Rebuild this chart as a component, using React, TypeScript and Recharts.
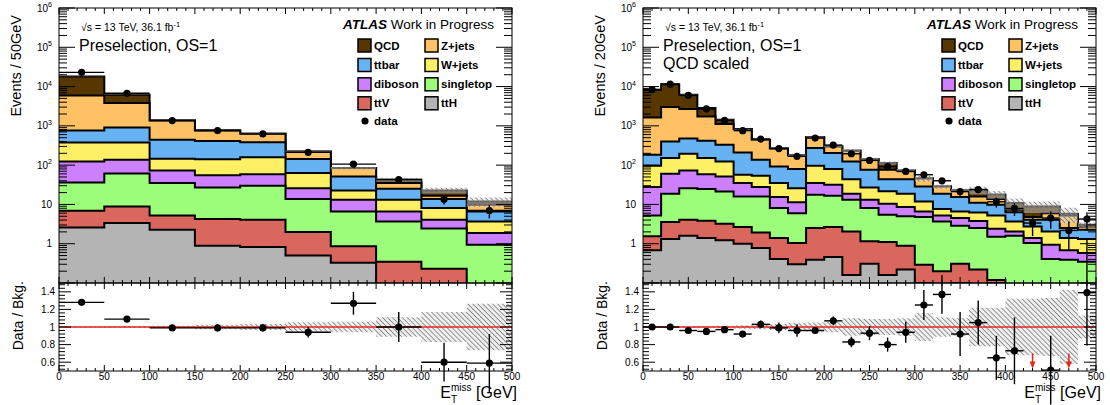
import React from 'react';
import { ComposedChart, Area, Scatter, XAxis, YAxis, ErrorBar, ReferenceLine } from 'recharts';

const FONT = '"Liberation Sans", Arial, Helvetica, sans-serif';

// Stack order (bottom -> top)
const NAMES = ['ttH', 'ttV', 'singletop', 'diboson', 'W+jets', 'ttbar', 'Z+jets', 'QCD'];
const COLORS = ['#b4b4b4', '#d9675d', '#9cfd7a', '#cd80fd', '#fef065', '#66b2f3', '#fec264', '#573600'];

// ---------------- Left panel: 50 GeV bins ----------------
const edgesL = [0, 50, 100, 150, 200, 250, 300, 350, 400, 450, 500];
const tthL = [2.6, 3.36, 2.27, 0.89, 0.82, 0.5, 0.33, 0.08, 0.05, 0.02];
const ttvL = [4.3, 5.54, 2.98, 3.36, 3.26, 1.49, 0.53, 0.27, 0.18, 0.04];
const singletopL = [29.1, 52.6, 29.75, 22.75, 25.9, 11.7, 5.74, 3.35, 2.22, 0.88];
const dibosonL = [88, 75.5, 38, 28, 29, 12.3, 6.6, 2.9, 1.65, 0.93];
const wjetsL = [254, 241, 72, 87, 101, 37, 9.5, 6.6, 4.0, 1.83];
const ttbarL = [385, 532, 298, 268, 220, 80, 28.9, 11.8, 5.6, 2.9];
const zjetsL = [5177, 2890, 927, 355, 250, 81, 32.4, 10, 3.0, 3.2];
const qcdL = [12160, 2400, 0, 0, 0, 0, 0, 7.5, 6.0, 2.1];
const dataL = [23000, 6750, 1360, 760, 625, 212, 106, 43, 13.6, 7.0];
const dataErrL = [150, 82, 37, 28, 25, 15, 10, 6.6, 3.7, 2.6];
const ratioL: (number | null)[] = [1.28, 1.09, 0.99, 0.99, 0.99, 0.94, 1.27, 1.0, 0.6, 0.59];
const ratioErrL = [0.01, 0.015, 0.03, 0.04, 0.04, 0.06, 0.13, 0.17, 0.22, 0.33];
const bandL = [0.008, 0.01, 0.015, 0.025, 0.035, 0.055, 0.06, 0.11, 0.17, 0.265];

// ---------------- Right panel: 20 GeV bins ----------------
const edgesR = [0, 20, 40, 60, 80, 100, 120, 140, 160, 180, 200, 220, 240, 260, 280, 300, 320, 340, 360, 380, 400, 420, 440, 460, 480, 500];
const tthR = [0.68, 1.31, 1.6, 1.39, 1.22, 1.0, 0.78, 0.41, 0.3, 0.39, 0.46, 0.16, 0.31, 0.16, 0.22, 0.1, 0.05, 0.1, 0.05, 0.1, 0.03, 0.03, 0.03, 0.03, 0.03];
const ttvR = [0.86, 2.24, 2.5, 2.46, 2.01, 1.65, 1.16, 0.98, 0.74, 2.11, 2.19, 1.9, 0.84, 0.94, 0.67, 0.19, 0.15, 0.21, 0.17, 0.02, 0.05, 0.05, 0.05, 0.05, 0.05];
const singletopR = [3.66, 15.15, 21.9, 20.75, 18.17, 13.25, 13.96, 6.71, 4.96, 15.2, 14.05, 11.14, 6.95, 4.4, 4.11, 4.51, 3.5, 2.56, 2.28, 1.38, 1.52, 0.96, 0.33, 0.31, 0.27];
const dibosonR = [22.5, 41.8, 47, 34.4, 30.2, 19.1, 11.8, 7.3, 5.3, 17.3, 15, 5.5, 5.1, 4.9, 3.6, 1.8, 1.5, 1.63, 1.3, 0.9, 0.46, 0.35, 0.53, 0.29, 0.23];
const wjetsR = [68.9, 90.5, 122, 92, 72.4, 22, 26.3, 19.6, 14.7, 61.6, 47.8, 25.3, 13.8, 11.1, 10.1, 5.3, 2.4, 2.1, 2.4, 2.8, 1.64, 1.37, 1.12, 0.71, 0.74];
const ttbarR = [87.4, 249, 285, 267, 206, 153, 83, 58, 53.5, 175.4, 123.5, 80, 49, 22.5, 25.3, 16.8, 11.1, 8.8, 4.8, 4.6, 2.6, 1.34, 2.04, 1.11, 0.95];
const zjetsR = [1456, 2600, 2200, 1322, 780, 620, 306, 174, 95.5, 238, 97, 106, 66, 32, 29, 16.9, 10, 7.4, 5, 3.9, 1.0, 0.7, 1.9, 2.75, 0.48];
const qcdR = [6660, 8500, 3520, 1090, 320, 0, 0, 0, 0, 0, 0, 5, 0, 37, 0, 0, 0, 0, 7, 4.3, 3.5, 4.1, 2.9, 0.55, 0.31];
const dataR = [8380, 11500, 5950, 2690, 1390, 755, 460, 264, 168, 490, 324, 195, 132, 92, 69, 57, 40, 21.2, 24, 11.7, 7.9, 3.36, 4.5, 2.18, 4.25];
const dataErrR = [92, 107, 77, 52, 37, 27, 21, 16, 13, 22, 18, 14, 11.5, 9.6, 8.3, 7.5, 6.3, 4.6, 4.9, 3.4, 2.8, 1.8, 2.1, 1.5, 2.1];
const ratioR: (number | null)[] = [1.0, 1.0, 0.96, 0.95, 0.97, 0.92, 1.03, 0.99, 0.96, 0.96, 1.07, 0.83, 0.93, 0.8, 0.94, 1.25, 1.37, 0.92, 1.05, 0.65, 0.73, null, 0.51, null, 1.39];
const ratioErrR = [0.01, 0.01, 0.013, 0.02, 0.026, 0.035, 0.045, 0.06, 0.07, 0.04, 0.05, 0.06, 0.08, 0.08, 0.12, 0.17, 0.22, 0.25, 0.25, 0.25, 0.38, 0, 0.39, 0, 0.6];
const bandR = [0.005, 0.008, 0.01, 0.012, 0.015, 0.02, 0.025, 0.035, 0.045, 0.05, 0.06, 0.1, 0.09, 0.09, 0.1, 0.16, 0.11, 0.1, 0.22, 0.22, 0.32, 0.32, 0.33, 0.42, 0.13];

// Axis ticks
const LOG_MAJOR = [0.1, 1, 10, 100, 1000, 10000, 100000, 1000000];
const RATIO_MAJOR = [0.6, 0.8, 1, 1.2, 1.4];
const ARROW_TOP = 0.7;

const xTicks: number[] = [];
for (let v = 0; v <= 500; v += 10) xTicks.push(v);
const logTicks: number[] = [];
LOG_MAJOR.forEach((d) => {
  for (let m = 1; m <= 9; m++) {
    const v = m * d;
    if (v <= 1000000) logTicks.push(v);
  }
});
const ratioTicks: number[] = [];
for (let k = 0; k <= 24; k++) ratioTicks.push(Math.round((0.52 + 0.04 * k) * 100) / 100);

const W = 526;
const PL = 59;
const PR = 512;
const MAIN_TOP = 8;
const MAIN_BOT = 283;
const RAT_BOT = 371;
const MAIN_H = 290;
const RAT_H = 405;

type Side = 'left' | 'right' | 'top' | 'bottom';
function tickRenderer(
  side: Side,
  isMajor: (v: number) => boolean,
  majLen: number,
  minLen: number,
  label?: (v: number, x: number, y: number) => React.ReactNode
) {
  return (props: any) => {
    const { x, y, payload } = props;
    const v = Number(payload.value);
    const maj = isMajor(v);
    const L = maj ? majLen : minLen;
    const x2 = side === 'left' ? x + L : side === 'right' ? x - L : x;
    const y2 = side === 'top' ? y + L : side === 'bottom' ? y - L : y;
    return (
      <g>
        <line x1={x} y1={y} x2={x2} y2={y2} stroke="#000" strokeWidth={1} />
        {maj && label ? label(v, x, y) : null}
      </g>
    );
  };
}

const isXMajor = (v: number) => Math.abs(v / 50 - Math.round(v / 50)) < 1e-9;
const isLogMajor = (v: number) => Math.abs(Math.log10(v) - Math.round(Math.log10(v))) < 1e-9;
const isRatioMajor = (v: number) => RATIO_MAJOR.some((m) => Math.abs(m - v) < 1e-6);

const logLabel = (v: number, x: number, y: number) => {
  if (v < 1) return null;
  const e = Math.round(Math.log10(v));
  if (e === 0) return <text x={x - 7} y={y + 3.5} textAnchor="end" fontSize={10} fontFamily={FONT}>1</text>;
  if (e === 1) return <text x={x - 7} y={y + 3.5} textAnchor="end" fontSize={10} fontFamily={FONT}>10</text>;
  return (
    <text x={x - 7} y={y + 3.5} textAnchor="end" fontSize={10} fontFamily={FONT}>
      10<tspan dy={-4.5} fontSize={7}>{e}</tspan>
    </text>
  );
};
const ratioLabel = (v: number, x: number, y: number) => (
  <text x={x - 4} y={y + 3.5} textAnchor="end" fontSize={10} fontFamily={FONT}>
    {Number(v.toFixed(2)).toString()}
  </text>
);
const xLabel = (v: number, x: number, y: number) => (
  <text x={x} y={y + 9} textAnchor="middle" fontSize={10} fontFamily={FONT}>
    {v}
  </text>
);

const dotShape = (p: any) => <circle cx={p.cx} cy={p.cy} r={3.6} fill="#000" />;
const arrowShape = (p: any) => (
  <g>
    <line x1={p.cx} y1={p.cy} x2={p.cx} y2={p.cy + 10} stroke="#e8261e" strokeWidth={1.5} />
    <polygon points={`${p.cx - 3},${p.cy + 8} ${p.cx + 3},${p.cy + 8} ${p.cx},${p.cy + 15}`} fill="#e8261e" />
  </g>
);

type PanelProps = {
  dx: number;
  id: string;
  edges: number[];
  comps: number[][];
  data: number[];
  dataErr: number[];
  ratio: (number | null)[];
  ratioErr: number[];
  band: number[];
};

function hatchDefs(id: string) {
  return (
    <defs>
      <pattern id={id} width="3.5" height="3.5" patternUnits="userSpaceOnUse" patternTransform="rotate(-45)">
        <rect width="3.5" height="3.5" fill="#dcdcdc" fillOpacity={0.45} />
        <line x1="0" y1="0" x2="0" y2="3.5" stroke="#7d7d7d" strokeWidth="1.6" />
      </pattern>
    </defs>
  );
}

// axes are given 1px of size (a zero-size axis is not drawn), the margins compensate
function axesFor(yScale: 'log' | 'linear', yDomain: number[], yTicks: number[], isYMajor: (v: number) => boolean,
  yMaj: number, yMin: number, yLabel: ((v: number, x: number, y: number) => React.ReactNode) | undefined,
  xLabelFn: ((v: number, x: number, y: number) => React.ReactNode) | undefined) {
  const xCommon = {
    dataKey: 'x',
    type: 'number' as const,
    domain: [0, 500],
    ticks: xTicks,
    interval: 0 as const,
    height: 1,
    tickSize: 0,
    tickMargin: 0,
    tickLine: false,
    axisLine: false,
    allowDataOverflow: true,
  };
  const yCommon = {
    dataKey: 'y',
    type: 'number' as const,
    scale: yScale,
    domain: yDomain,
    ticks: yTicks,
    interval: 0 as const,
    width: 1,
    tickSize: 0,
    tickMargin: 0,
    tickLine: false,
    axisLine: false,
    allowDataOverflow: true,
  };
  return [
    <XAxis key="xb" xAxisId="b" {...xCommon} tick={tickRenderer('bottom', isXMajor, 6, 3, xLabelFn)} />,
    <XAxis key="xt" xAxisId="t" orientation="top" {...xCommon} tick={tickRenderer('top', isXMajor, 6, 3)} />,
    <YAxis key="yl" yAxisId="l" {...yCommon} tick={tickRenderer('left', isYMajor, yMaj, yMin, yLabel)} />,
    <YAxis key="yr" yAxisId="r" orientation="right" {...yCommon} tick={tickRenderer('right', isYMajor, yMaj, yMin)} />,
  ];
}

function Panel(p: PanelProps) {
  const n = p.edges.length - 1;
  const rows = p.edges.map((x, i) => {
    const b = Math.min(i, n - 1);
    const row: Record<string, any> = { x };
    let cum = 0;
    p.comps.forEach((c, k) => {
      cum += c[b];
      row['c' + k] = cum;
    });
    row.band = [cum * (1 - p.band[b]), cum * (1 + p.band[b])];
    row.rband = [1 - p.band[b], 1 + p.band[b]];
    return row;
  });
  const centers = p.edges.slice(0, n).map((e, i) => (e + p.edges[i + 1]) / 2);
  const half = p.edges.slice(0, n).map((e, i) => (p.edges[i + 1] - e) / 2);
  const pts = centers.map((c, i) => ({ x: c, y: p.data[i], ex: half[i], ey: p.dataErr[i] }));
  const rpts = centers
    .map((c, i) => ({ x: c, y: p.ratio[i], ex: half[i], ey: p.ratioErr[i] }))
    .filter((r) => r.y !== null);
  const arrows = centers
    .map((c, i) => (p.ratio[i] === null ? { x: c, y: ARROW_TOP } : null))
    .filter((a) => a !== null) as { x: number; y: number }[];

  const hatchMain = `hatchM-${p.id}`;
  const hatchRat = `hatchR-${p.id}`;

  return (
    <>
      <div style={{ position: 'absolute', left: p.dx, top: 0 }}>
        <ComposedChart
          width={W}
          height={MAIN_H}
          data={rows}
          margin={{ top: MAIN_TOP - 1, right: W - PR - 1, bottom: MAIN_H - MAIN_BOT - 1, left: PL - 1 }}
        >
          {hatchDefs(hatchMain)}
          {axesFor('log', [0.1, 1000000], logTicks, isLogMajor, 16, 8, logLabel, undefined)}
          {[7, 6, 5, 4, 3, 2, 1, 0].map((k) => (
            <Area
              key={k}
              xAxisId="b"
              yAxisId="l"
              dataKey={'c' + k}
              type="stepAfter"
              baseValue={0.1}
              fill={COLORS[k]}
              fillOpacity={1}
              stroke="#000"
              strokeWidth={2}
              dot={false}
              activeDot={false}
              isAnimationActive={false}
            />
          ))}
          <Area
            xAxisId="b"
            yAxisId="l"
            dataKey="band"
            type="stepAfter"
            fill={`url(#${hatchMain})`}
            fillOpacity={1}
            stroke="none"
            dot={false}
            activeDot={false}
            isAnimationActive={false}
          />
          <Scatter xAxisId="b" yAxisId="l" data={pts} dataKey="y" shape={dotShape} isAnimationActive={false}>
            <ErrorBar dataKey="ex" direction="x" width={0} stroke="#000" strokeWidth={1.4} isAnimationActive={false} />
            <ErrorBar dataKey="ey" direction="y" width={0} stroke="#000" strokeWidth={1.4} isAnimationActive={false} />
          </Scatter>
        </ComposedChart>
      </div>
      <div style={{ position: 'absolute', left: p.dx, top: 0 }}>
        <ComposedChart
          width={W}
          height={RAT_H}
          data={rows}
          margin={{ top: MAIN_BOT - 1, right: W - PR - 1, bottom: RAT_H - RAT_BOT - 1, left: PL - 1 }}
        >
          {hatchDefs(hatchRat)}
          {axesFor('linear', [0.5, 1.5], ratioTicks, isRatioMajor, 12, 6, ratioLabel, xLabel)}
          <Area
            xAxisId="b"
            yAxisId="l"
            dataKey="rband"
            type="stepAfter"
            fill={`url(#${hatchRat})`}
            fillOpacity={1}
            stroke="none"
            dot={false}
            activeDot={false}
            isAnimationActive={false}
          />
          <ReferenceLine xAxisId="b" yAxisId="l" y={1} stroke="#e8261e" strokeWidth={1.5} />
          <Scatter xAxisId="b" yAxisId="l" data={rpts} dataKey="y" shape={dotShape} isAnimationActive={false}>
            <ErrorBar dataKey="ex" direction="x" width={0} stroke="#000" strokeWidth={1.4} isAnimationActive={false} />
            <ErrorBar dataKey="ey" direction="y" width={0} stroke="#000" strokeWidth={1.4} isAnimationActive={false} />
          </Scatter>
          <Scatter xAxisId="b" yAxisId="l" data={arrows} dataKey="y" shape={arrowShape} isAnimationActive={false} />
        </ComposedChart>
      </div>
    </>
  );
}

const LEGEND_ORDER = [7, 6, 5, 4, 3, 2, 1, 0];
const LEGEND_COL_X = [358, 425];
const LEGEND_ROW_Y = [45.5, 65, 84.3, 103.3, 121];

function Overlay({ dx, yTitle, lines }: { dx: number; yTitle: string; lines: string[] }) {
  return (
    <g transform={`translate(${dx},0)`} fontFamily={FONT}>
      <rect x={PL} y={MAIN_TOP} width={PR - PL} height={MAIN_BOT - MAIN_TOP} fill="none" stroke="#000" strokeWidth={1} />
      <rect x={PL} y={MAIN_BOT} width={PR - PL} height={RAT_BOT - MAIN_BOT} fill="none" stroke="#000" strokeWidth={1} />
      <text transform={`translate(21,15) rotate(-90)`} textAnchor="end" fontSize={14.5}>{yTitle}</text>
      <text transform={`translate(23,281) rotate(-90)`} textAnchor="end" fontSize={14}>Data / Bkg.</text>
      <text x={451} y={398} textAnchor="end" fontSize={16}>E</text>
      <text x={451} y={391} fontSize={10}>miss</text>
      <text x={451} y={403} fontSize={10}>T</text>
      <text x={517} y={398} textAnchor="end" fontSize={16}>[GeV]</text>
      <text x={81} y={31} fontSize={10.5}>
        √s = 13 TeV, 36.1 fb<tspan dy={-4} fontSize={7.5}>-1</tspan>
      </text>
      {lines.map((l, i) => (
        <text key={l} x={79} y={51 + i * 18} fontSize={16}>{l}</text>
      ))}
      <text x={494} y={29} textAnchor="end" fontSize={13.5}>
        <tspan fontWeight="bold" fontStyle="italic">ATLAS</tspan> Work in Progress
      </text>
      {LEGEND_ORDER.map((k, i) => {
        const bx = LEGEND_COL_X[i % 2];
        const cy = LEGEND_ROW_Y[Math.floor(i / 2)];
        return (
          <g key={k}>
            <rect x={bx} y={cy - 6.5} width={13} height={13} fill={COLORS[k]} stroke="#000" strokeWidth={1.5} />
            <text x={bx + 16} y={cy + 4} fontSize={11.5} fontWeight="bold">{NAMES[k]}</text>
          </g>
        );
      })}
      <circle cx={365} cy={LEGEND_ROW_Y[4]} r={3.6} fill="#000" />
      <text x={374} y={LEGEND_ROW_Y[4] + 4} fontSize={11.5} fontWeight="bold">data</text>
    </g>
  );
}

export default function App() {
  const left = [tthL, ttvL, singletopL, dibosonL, wjetsL, ttbarL, zjetsL, qcdL];
  const right = [tthR, ttvR, singletopR, dibosonR, wjetsR, ttbarR, zjetsR, qcdR];
  return (
    <div style={{ position: 'absolute', left: 0, top: 0, width: 1110, height: 405, background: '#fff', overflow: 'hidden' }}>
      <Panel dx={0} id="L" edges={edgesL} comps={left} data={dataL} dataErr={dataErrL} ratio={ratioL} ratioErr={ratioErrL} band={bandL} />
      <Panel dx={584} id="R" edges={edgesR} comps={right} data={dataR} dataErr={dataErrR} ratio={ratioR} ratioErr={ratioErrR} band={bandR} />
      <svg width={1110} height={405} style={{ position: 'absolute', left: 0, top: 0, pointerEvents: 'none' }}>
        <Overlay dx={0} yTitle="Events / 50GeV" lines={['Preselection, OS=1']} />
        <Overlay dx={584} yTitle="Events / 20GeV" lines={['Preselection, OS=1', 'QCD scaled']} />
      </svg>
    </div>
  );
}
